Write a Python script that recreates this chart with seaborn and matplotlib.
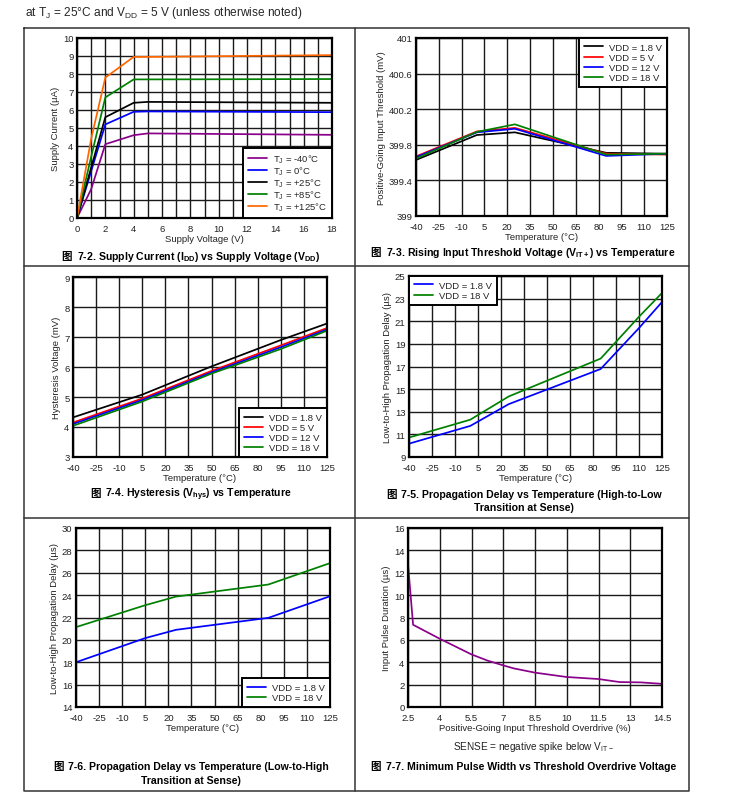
import numpy as np
import pandas as pd
import matplotlib
matplotlib.use("Agg")
import matplotlib.pyplot as plt
from matplotlib.ticker import MultipleLocator
from matplotlib.offsetbox import TextArea, HPacker, AnnotationBbox
import seaborn as sns

# ------------------------------
# Podaci
# ------------------------------
vdd_supply = [0, 1, 2, 4, 5, 18]
idd_m40 = [0, 1.6, 4.1, 4.6, 4.7, 4.62]
idd_0 = [0, 2.6, 5.2, 5.9, 5.92, 5.88]
idd_25 = [0, 2.8, 5.6, 6.4, 6.45, 6.4]
idd_85 = [0, 3.4, 6.7, 7.7, 7.7, 7.72]
idd_125 = [0, 4.4, 7.8, 8.95, 8.95, 9.05]

temp_vit = [-40, 0, 25, 85, 125]
vit_1v8 = [399.63, 399.91, 399.94, 399.71, 399.70]
vit_5v = [399.67, 399.95, 399.99, 399.70, 399.69]
vit_12v = [399.66, 399.94, 399.98, 399.675, 399.70]
vit_18v = [399.645, 399.945, 400.03, 399.69, 399.70]

temp_hys = [-40, 5, 50, 95, 125]
hys_1v8 = [4.32, 5.08, 6.02, 6.9, 7.45]
hys_5v = [4.15, 4.95, 5.87, 6.72, 7.3]
hys_12v = [4.1, 4.9, 5.82, 6.66, 7.25]
hys_18v = [4.04, 4.85, 5.78, 6.6, 7.21]

temp_hl = [-40, 0, 25, 85, 110, 125]
tphl_1v8 = [10.18, 11.75, 13.67, 16.78, 20.4, 22.7]
tphl_18v = [10.72, 12.3, 14.35, 17.7, 21.4, 23.5]

temp_lh = [-40, 5, 25, 85, 125]
tplh_1v8 = [18.0, 20.16, 20.9, 21.97, 23.9]
tplh_18v = [21.14, 23.1, 23.87, 24.95, 26.86]

overdrive = [2.5, 2.74, 4.0, 5.5, 6.27, 7.0, 7.5, 8.5, 10.0, 11.5, 12.5, 13.5, 14.5]
pulse_width = [12.8, 7.35, 6.1, 4.7, 4.14, 3.72, 3.45, 3.07, 2.68, 2.5, 2.23, 2.2, 2.07]

temp_ticks = [-40, -25, -10, 5, 20, 35, 50, 65, 80, 95, 110, 125]
overdrive_ticks = [2.5, 4, 5.5, 7, 8.5, 10, 11.5, 13, 14.5]
overdrive_labels = ['2.5', '4', '5.5', '7', '8.5', '10', '11.5', '13', '14.5']
vit_ticks = [399, 399.4, 399.8, 400.2, 400.6, 401]
vit_labels = ['399', '399.4', '399.8', '400.2', '400.6', '401']
tphl_ticks = [9, 11, 13, 15, 17, 19, 21, 23, 25]

W, H = 736, 804
FONT = ['Liberation Sans', 'Noto Sans CJK SC', 'DejaVu Sans']

sns.set_style("white")
plt.rcParams['font.family'] = FONT
plt.rcParams['axes.unicode_minus'] = False
plt.rcParams['mathtext.fontset'] = 'custom'
plt.rcParams['mathtext.rm'] = 'Liberation Sans'
plt.rcParams['mathtext.it'] = 'Liberation Sans:italic'
plt.rcParams['mathtext.bf'] = 'Liberation Sans:bold'

fig = plt.figure(figsize=(W / 100, H / 100), dpi=100)
TXT = '#222222'


def ax_at(l, t, r, b):
    return fig.add_axes([l / W, 1 - b / H, (r - l) / W, (b - t) / H])


def style_ax(ax, xlim, ylim, xticks, yticks, xlabel, ylabel, xminor=None):
    ax.set_xlim(*xlim)
    ax.set_ylim(*ylim)
    ax.set_xticks(xticks)
    ax.set_yticks(yticks)
    ax.grid(True, which='major', color='#1a1a1a', lw=1.0)
    if xminor:
        ax.xaxis.set_minor_locator(MultipleLocator(xminor))
        ax.grid(True, which='minor', axis='x', color='#1a1a1a', lw=1.0)
    ax.set_axisbelow(True)
    for s in ax.spines.values():
        s.set_color('black')
        s.set_linewidth(1.6)
    ax.tick_params(axis='both', which='both', length=0, labelsize=6.8, colors=TXT)
    ax.tick_params(axis='x', pad=4.5)
    ax.tick_params(axis='y', pad=2.5)
    ax.set_xlabel(xlabel, fontsize=6.8, labelpad=0.5, color=TXT)
    ax.set_ylabel(ylabel, fontsize=6.8, labelpad=2, color=TXT)


def add_legend(ax, loc, spacing=0.12):
    leg = ax.legend(loc=loc, fontsize=6.8, frameon=True, fancybox=False,
                    edgecolor='black', framealpha=1, borderaxespad=0,
                    labelspacing=spacing, handlelength=2.0, borderpad=0.5,
                    handletextpad=0.7)
    leg.get_frame().set_linewidth(1.4)


def caption(x, y, text, mark=True):
    props = dict(fontsize=7.6, fontweight='bold', family=['Liberation Sans'], color='black')
    parts = [TextArea(text, textprops=props)]
    if mark:
        parts.insert(0, TextArea('图', textprops=dict(fontsize=7.6, fontweight='bold',
                                                      family=['Noto Sans CJK SC'], color='black')))
    box = HPacker(children=parts, sep=3.5, pad=0, align='baseline')
    ab = AnnotationBbox(box, (x / W, 1 - y / H), xycoords='figure fraction',
                        box_alignment=(0.5, 0.5), frameon=False, pad=0)
    fig.add_artist(ab)


LW = 1.25

# ------------------------------
# 7-2 Supply current
# ------------------------------
ax1 = ax_at(77, 39, 332, 219)
for ys, c, lab in [(idd_m40, '#8b008b', 'T$_{\\rm J}$ = -40°C'),
                   (idd_0, '#0000ff', 'T$_{\\rm J}$ = 0°C'),
                   (idd_25, '#000000', 'T$_{\\rm J}$ = +25°C'),
                   (idd_85, '#008000', 'T$_{\\rm J}$ = +85°C'),
                   (idd_125, '#ff6600', 'T$_{\\rm J}$ = +125°C')]:
    sns.lineplot(x=vdd_supply, y=ys, color=c, label=lab, lw=LW, ax=ax1)
style_ax(ax1, (0, 18), (0, 10), list(range(0, 19, 2)), list(range(0, 11)),
         'Supply Voltage (V)', 'Supply Current (µA)', xminor=1)
add_legend(ax1, 'lower right', spacing=-0.05)
caption(191, 257, '7-2. Supply Current (I$_\\mathbf{DD}$) vs Supply Voltage (V$_\\mathbf{DD}$)')

# ------------------------------
# 7-3 Rising threshold
# ------------------------------
ax2 = ax_at(416, 39, 667, 217)
for ys, c, lab in [(vit_1v8, '#000000', 'VDD = 1.8 V'),
                   (vit_5v, '#ff0000', 'VDD = 5 V'),
                   (vit_12v, '#0000ff', 'VDD = 12 V'),
                   (vit_18v, '#008000', 'VDD = 18 V')]:
    sns.lineplot(x=temp_vit, y=ys, color=c, label=lab, lw=LW, ax=ax2)
style_ax(ax2, (-40, 125), (399, 401), temp_ticks, vit_ticks,
         'Temperature (°C)', 'Positive-Going Input Threshold (mV)')
ax2.set_yticklabels(vit_labels)
add_legend(ax2, 'upper right')
caption(523, 253, '7-3. Rising Input Threshold Voltage (V$_\\mathbf{IT+}$) vs Temperature')

# ------------------------------
# 7-4 Hysteresis
# ------------------------------
ax3 = ax_at(73, 278, 327, 458)
for ys, c, lab in [(hys_1v8, '#000000', 'VDD = 1.8 V'),
                   (hys_5v, '#ff0000', 'VDD = 5 V'),
                   (hys_12v, '#0000ff', 'VDD = 12 V'),
                   (hys_18v, '#008000', 'VDD = 18 V')]:
    sns.lineplot(x=temp_hys, y=ys, color=c, label=lab, lw=LW, ax=ax3)
style_ax(ax3, (-40, 125), (3, 9), temp_ticks, list(range(3, 10)),
         'Temperature (°C)', 'Hysteresis Voltage (mV)')
add_legend(ax3, 'lower right')
caption(191, 495, '7-4. Hysteresis (V$_\\mathbf{hys}$) vs Temperature')

# ------------------------------
# 7-5 Propagation delay high-to-low
# ------------------------------
ax4 = ax_at(409, 277, 662, 458)
sns.lineplot(x=temp_hl, y=tphl_1v8, color='#0000ff', label='VDD = 1.8 V', lw=LW, ax=ax4)
sns.lineplot(x=temp_hl, y=tphl_18v, color='#008000', label='VDD = 18 V', lw=LW, ax=ax4)
style_ax(ax4, (-40, 125), (9, 25), temp_ticks, tphl_ticks,
         'Temperature (°C)', 'Low-to-High Propagation Delay (µs)')
add_legend(ax4, 'upper left')
caption(524, 495, '7-5. Propagation Delay vs Temperature (High-to-Low')
caption(524, 508, 'Transition at Sense)', mark=False)

# ------------------------------
# 7-6 Propagation delay low-to-high
# ------------------------------
ax5 = ax_at(76, 529, 330, 708)
sns.lineplot(x=temp_lh, y=tplh_1v8, color='#0000ff', label='VDD = 1.8 V', lw=LW, ax=ax5)
sns.lineplot(x=temp_lh, y=tplh_18v, color='#008000', label='VDD = 18 V', lw=LW, ax=ax5)
style_ax(ax5, (-40, 125), (14, 30), temp_ticks, list(range(14, 31, 2)),
         'Temperature (°C)', 'Low-to-High Propagation Delay (µs)')
add_legend(ax5, 'lower right')
caption(191, 767, '7-6. Propagation Delay vs Temperature (Low-to-High')
caption(191, 781, 'Transition at Sense)', mark=False)

# ------------------------------
# 7-7 Minimum pulse width
# ------------------------------
ax6 = ax_at(408, 529, 662, 708)
sns.lineplot(x=overdrive, y=pulse_width, color='#8b008b', lw=LW, ax=ax6, sort=False)
style_ax(ax6, (2.5, 14.5), (0, 16), overdrive_ticks, list(range(0, 17, 2)),
         'Positive-Going Input Threshold Overdrive (%)', 'Input Pulse Duration (µs)')
ax6.set_xticklabels(overdrive_labels)
fig.text(533 / W, 1 - 747 / H, 'SENSE = negative spike below V$_{\\rm IT-}$', ha='center',
         va='center', fontsize=7.2, color=TXT)
caption(523, 767, '7-7. Minimum Pulse Width vs Threshold Overdrive Voltage')

# ------------------------------
# Okvir i zaglavlje
# ------------------------------
fig.text(25 / W, 1 - 13 / H, 'at T$_{\\rm J}$ = 25°C and V$_{\\rm DD}$ = 5 V (unless otherwise noted)',
         ha='left', va='center', fontsize=8.6)

frame = fig.add_axes([0, 0, 1, 1], zorder=-1)
frame.set_xlim(0, W)
frame.set_ylim(H, 0)
frame.axis('off')
for xs, ys in [([24, 689, 689, 24, 24], [29, 29, 792, 792, 29]),
               ([355, 355], [29, 792]),
               ([24, 689], [267, 267]),
               ([24, 689], [519, 519])]:
    frame.plot(xs, ys, color='#333333', lw=1.1)

fig.savefig('out.png', dpi=100)
